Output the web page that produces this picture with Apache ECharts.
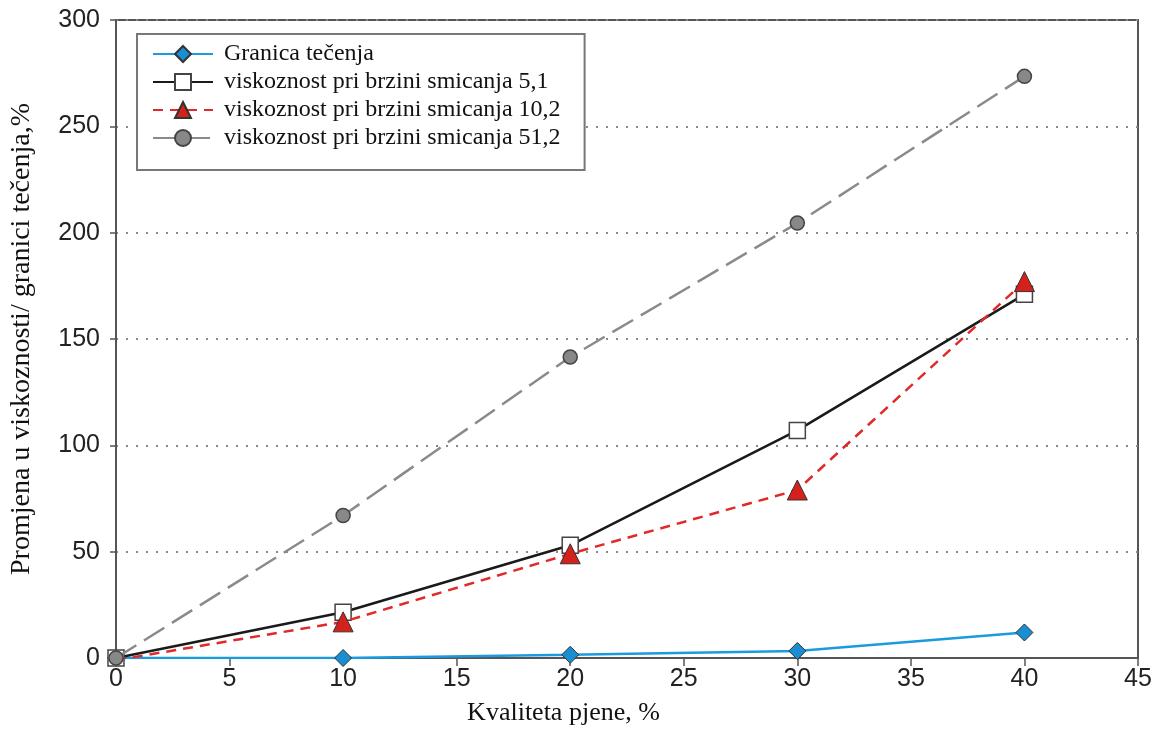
<!DOCTYPE html>
<html><head><meta charset="utf-8">
<script src="https://cdn.jsdelivr.net/npm/echarts@6/dist/echarts.min.js"></script>
<style>html,body{margin:0;padding:0;background:#fff}#c{width:1164px;height:729px}</style>
</head><body><div id="c"></div>
<script>
const xValues = [0, 10, 20, 30, 40];
const granica = [0, 0, 1.5, 3.3, 12];
const visc51 = [0, 21.5, 53, 107, 171];
const visc102 = [-1, 17, 49, 79, 177];
const visc512 = [0, 67, 141.5, 204.5, 273.5];
const names = ['Granica tečenja', 'viskoznost pri brzini smicanja 5,1', 'viskoznost pri brzini smicanja 10,2', 'viskoznost pri brzini smicanja 51,2'];
const yTicks = [0, 50, 100, 150, 200, 250, 300];

function pairs(v){ return xValues.map((x,i)=>[x, v[i]]); }

const chart = echarts.init(document.getElementById('c'));
const serif = '"Liberation Serif", "DejaVu Serif", serif';
const sans = '"Liberation Sans", Arial, sans-serif';
chart.setOption({
  animation: false,
  backgroundColor: '#fff',
  grid: { left: 116, right: 26, top: 20, bottom: 71, containLabel: false, outerBoundsMode: 'none',
    show: true, borderColor: '#555', borderWidth: 2, backgroundColor: 'transparent' },
  legend: {
    left: 137, top: 34, orient: 'vertical',
    backgroundColor: '#fff', borderColor: '#777', borderWidth: 2,
    padding: [8, 24, 20, 15], itemGap: 4,
    itemWidth: 60, itemHeight: 20,
    textStyle: { fontFamily: serif, fontSize: 24, lineHeight: 24, color: '#111', padding: [0, 0, 0, 6] },
    data: names
  },
  xAxis: {
    type: 'value', min: 0, max: 45, interval: 5,
    name: 'Kvaliteta pjene, %', nameLocation: 'middle', nameGap: 42,
    nameTextStyle: { fontFamily: serif, fontSize: 26, color: '#111', padding: [0, 127, 0, 0] },
    axisLine: { show: true, lineStyle: { color: '#555', width: 2 } },
    axisTick: { show: true, length: 8, inside: false, lineStyle: { color: '#555', width: 1.5 } },
    axisLabel: { fontFamily: sans, fontSize: 25, color: '#222', margin: 9 },
    splitLine: { show: false }
  },
  yAxis: {
    type: 'value', min: 0, max: 300, interval: 50,
    name: 'Promjena u viskoznosti/ granici tečenja,%', nameLocation: 'middle', nameGap: 80,
    nameTextStyle: { fontFamily: serif, fontSize: 28, color: '#111' },
    axisLine: { show: true, lineStyle: { color: '#555', width: 2 } },
    axisTick: { show: true, length: 6, inside: false, lineStyle: { color: '#555', width: 1.5 } },
    axisLabel: { fontFamily: sans, fontSize: 25, color: '#222', margin: 16,
      formatter: v => yTicks.indexOf(v) >= 0 ? String(v) : '' },
    splitLine: { show: true, lineStyle: { color: '#888', type: [2, 8], width: 2 } }
  },
  series: [
    { name: names[0], type: 'line', data: pairs(granica), symbol: 'diamond', symbolSize: 17,
      lineStyle: { color: '#1b9ae0', width: 2.5 },
      itemStyle: { color: '#1a8ed3', borderColor: '#333', borderWidth: 1 }, z: 2 },
    { name: names[1], type: 'line', data: pairs(visc51), symbol: 'rect', symbolSize: 16,
      lineStyle: { color: '#1a1a1a', width: 2.5 },
      itemStyle: { color: '#fff', borderColor: '#444', borderWidth: 1.5 }, z: 3 },
    { name: names[2], type: 'line', data: pairs(visc102), symbol: 'triangle', symbolSize: 20,
      lineStyle: { color: '#e02a2a', width: 2.5, type: [10, 7] },
      itemStyle: { color: '#d4211b', borderColor: '#333', borderWidth: 1 }, z: 4 },
    { name: names[3], type: 'line', data: pairs(visc512), symbol: 'circle', symbolSize: 14,
      lineStyle: { color: '#8a8a8a', width: 2.5, type: [24, 9] },
      itemStyle: { color: '#888', borderColor: '#444', borderWidth: 1.5 }, z: 5 }
  ]
});
</script></body></html>
